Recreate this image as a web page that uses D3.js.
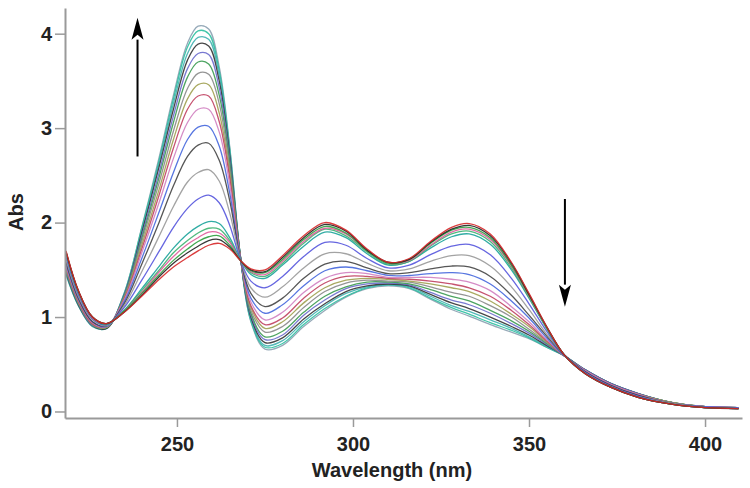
<!DOCTYPE html>
<html>
<head>
<meta charset="utf-8">
<script src="https://cdn.jsdelivr.net/npm/d3@7"></script>
<style>
  html, body { margin: 0; padding: 0; background: #fff; }
  svg { display: block; }
  .axis text, .axis-title {
    font-family: "Liberation Sans", Arial, sans-serif;
    font-weight: bold;
    font-size: 20px;
    fill: #222;
  }
</style>
</head>
<body>
<svg id="chart" width="750" height="488"></svg>
<script>
// ========== Data ==========

const wavelengths = [218.5, 222, 226, 230, 235, 240, 245, 249, 253, 256, 259, 262, 265, 268, 271, 275, 280, 286, 292, 298,
                     304, 310, 316, 322, 328, 333, 339, 345, 350, 355, 360, 366, 373, 381, 390, 400, 409.5];

const scan01 = [1.70,1.28,1.00,0.93,1.05,1.22,1.40,1.53,1.63,1.70, 1.76,1.78,1.72,1.60,1.51,1.50,1.65,1.86,2.00,1.92, 1.72,1.58,1.62,1.80,1.95,1.99,1.88,1.58,1.25,0.90, 0.60,0.40,0.26,0.15,0.08,0.04,0.03];
const scan02 = [1.69,1.28,1.00,0.93,1.05,1.23,1.43,1.57,1.68,1.75, 1.81,1.82,1.74,1.60,1.50,1.48,1.63,1.84,1.98,1.91, 1.71,1.58,1.61,1.79,1.93,1.97,1.86,1.57,1.24,0.90, 0.60,0.40,0.26,0.15,0.08,0.04,0.03];
const scan03 = [1.69,1.27,1.00,0.93,1.06,1.25,1.45,1.60,1.72,1.80, 1.85,1.86,1.76,1.60,1.49,1.47,1.61,1.82,1.96,1.89, 1.70,1.57,1.61,1.78,1.92,1.95,1.84,1.55,1.23,0.89, 0.60,0.40,0.26,0.15,0.08,0.04,0.03];
const scan04 = [1.68,1.27,0.99,0.93,1.06,1.26,1.48,1.64,1.77,1.84, 1.90,1.89,1.79,1.60,1.48,1.45,1.59,1.80,1.94,1.88, 1.70,1.57,1.60,1.76,1.90,1.93,1.82,1.54,1.22,0.89, 0.60,0.40,0.26,0.15,0.08,0.04,0.03];
const scan05 = [1.68,1.27,0.99,0.93,1.07,1.28,1.50,1.68,1.81,1.89, 1.94,1.93,1.81,1.60,1.47,1.43,1.57,1.78,1.93,1.86, 1.69,1.56,1.59,1.75,1.88,1.91,1.80,1.52,1.21,0.88, 0.60,0.40,0.26,0.15,0.08,0.04,0.03];
const scan06 = [1.67,1.26,0.99,0.92,1.07,1.30,1.54,1.73,1.88,1.96, 2.01,1.99,1.84,1.61,1.45,1.41,1.55,1.75,1.90,1.84, 1.67,1.55,1.59,1.73,1.85,1.88,1.77,1.50,1.20,0.88, 0.60,0.40,0.26,0.15,0.08,0.04,0.03];
const scan07 = [1.64,1.24,0.98,0.92,1.10,1.39,1.70,1.95,2.15,2.25, 2.29,2.21,1.97,1.61,1.38,1.31,1.43,1.64,1.79,1.76, 1.62,1.52,1.55,1.66,1.75,1.77,1.66,1.41,1.14,0.85, 0.60,0.41,0.27,0.16,0.08,0.04,0.03];
const scan08 = [1.61,1.22,0.97,0.91,1.12,1.48,1.86,2.17,2.43,2.53, 2.56,2.44,2.10,1.62,1.31,1.21,1.32,1.52,1.67,1.67, 1.57,1.49,1.51,1.59,1.65,1.65,1.54,1.32,1.08,0.82, 0.60,0.41,0.27,0.16,0.09,0.04,0.03];
const scan09 = [1.58,1.20,0.95,0.91,1.14,1.56,2.01,2.39,2.70,2.82, 2.84,2.66,2.23,1.62,1.25,1.11,1.20,1.41,1.56,1.59, 1.52,1.46,1.47,1.51,1.54,1.53,1.43,1.23,1.02,0.80, 0.60,0.42,0.28,0.17,0.09,0.04,0.03];
const scan10 = [1.56,1.19,0.95,0.90,1.16,1.62,2.12,2.53,2.88,3.01, 3.02,2.81,2.31,1.63,1.20,1.04,1.13,1.33,1.49,1.53, 1.49,1.44,1.44,1.46,1.47,1.45,1.35,1.17,0.99,0.78, 0.59,0.42,0.28,0.17,0.09,0.05,0.04];
const scan11 = [1.54,1.18,0.94,0.90,1.18,1.68,2.22,2.68,3.06,3.20, 3.20,2.96,2.40,1.63,1.16,0.97,1.05,1.26,1.41,1.47, 1.46,1.42,1.42,1.42,1.40,1.37,1.28,1.11,0.95,0.76, 0.59,0.43,0.29,0.18,0.09,0.05,0.04];
const scan12 = [1.53,1.17,0.93,0.90,1.19,1.72,2.30,2.79,3.20,3.34, 3.34,3.07,2.47,1.64,1.12,0.92,0.99,1.20,1.36,1.43, 1.43,1.41,1.40,1.38,1.35,1.31,1.22,1.07,0.92,0.75, 0.59,0.43,0.29,0.18,0.09,0.05,0.04];
const scan13 = [1.52,1.16,0.93,0.89,1.20,1.76,2.36,2.88,3.31,3.46, 3.46,3.16,2.52,1.64,1.10,0.88,0.95,1.15,1.31,1.39, 1.41,1.40,1.38,1.35,1.31,1.27,1.17,1.03,0.90,0.74, 0.59,0.43,0.29,0.18,0.10,0.05,0.04];
const scan14 = [1.50,1.15,0.92,0.89,1.21,1.80,2.43,2.97,3.42,3.58, 3.57,3.26,2.57,1.64,1.07,0.84,0.90,1.10,1.27,1.36, 1.39,1.38,1.37,1.32,1.26,1.22,1.12,1.00,0.87,0.73, 0.59,0.43,0.29,0.18,0.10,0.05,0.04];
const scan15 = [1.49,1.15,0.92,0.89,1.22,1.83,2.49,3.06,3.54,3.70, 3.68,3.35,2.63,1.64,1.04,0.79,0.85,1.05,1.22,1.32, 1.37,1.37,1.35,1.29,1.22,1.17,1.07,0.96,0.85,0.72, 0.59,0.43,0.29,0.18,0.10,0.05,0.04];
const scan16 = [1.48,1.14,0.91,0.89,1.23,1.86,2.54,3.13,3.63,3.79, 3.78,3.43,2.67,1.64,1.02,0.76,0.81,1.02,1.18,1.30, 1.35,1.36,1.34,1.26,1.18,1.13,1.04,0.93,0.83,0.71, 0.59,0.44,0.30,0.19,0.10,0.05,0.04];
const scan17 = [1.47,1.13,0.91,0.88,1.23,1.89,2.60,3.20,3.72,3.89, 3.87,3.50,2.71,1.65,1.00,0.73,0.78,0.98,1.14,1.27, 1.33,1.35,1.33,1.24,1.15,1.09,1.00,0.90,0.81,0.70, 0.59,0.44,0.30,0.19,0.10,0.05,0.04];
const scan18 = [1.46,1.13,0.91,0.88,1.24,1.91,2.64,3.26,3.79,3.96, 3.94,3.56,2.75,1.65,0.98,0.70,0.75,0.95,1.12,1.25, 1.32,1.34,1.32,1.22,1.12,1.06,0.97,0.88,0.79,0.69, 0.59,0.44,0.30,0.19,0.10,0.05,0.04];
const scan19 = [1.45,1.12,0.90,0.88,1.25,1.94,2.67,3.31,3.86,4.03, 4.00,3.61,2.78,1.65,0.96,0.68,0.72,0.92,1.09,1.22, 1.31,1.34,1.31,1.20,1.10,1.03,0.94,0.86,0.78,0.68, 0.59,0.44,0.30,0.19,0.10,0.05,0.04];
const scan20 = [1.45,1.12,0.90,0.88,1.25,1.95,2.70,3.35,3.90,4.08, 4.05,3.65,2.80,1.65,0.95,0.66,0.70,0.90,1.07,1.21, 1.30,1.33,1.30,1.19,1.08,1.01,0.92,0.84,0.77,0.68, 0.59,0.44,0.30,0.19,0.10,0.05,0.04];

const scans = [scan01, scan02, scan03, scan04, scan05, scan06, scan07, scan08, scan09, scan10,
               scan11, scan12, scan13, scan14, scan15, scan16, scan17, scan18, scan19, scan20];

const xTicks = [250, 300, 350, 400];
const yTicks = [0, 1, 2, 3, 4];

// trace colours, one per scan (Igor-like cycle)
const scanColors = ["#d62728", "#222222", "#2e9e3e", "#e05a9a", "#3cb371", "#1aa39a", "#5555dd", "#999999", "#444444", "#4466dd",
                    "#d080c0", "#c04060", "#a0a050", "#888888", "#3a9a50", "#6a6acc", "#333333", "#40b0b0", "#2cc0a0", "#8aa0b0"];

// ========== Chart Setup ==========

const svg = d3.select("#chart");

const plot = { left: 65, right: 742, top: 8, bottom: 418 };

const x = d3.scaleLinear()
    .domain([218.2, 410.5])
    .range([plot.left, plot.right]);

const y = d3.scaleLinear()
    .domain([-0.069, 4.272])
    .range([plot.bottom, plot.top]);

svg.append("defs").append("clipPath")
    .attr("id", "plotClip")
    .append("rect")
    .attr("x", plot.left)
    .attr("y", plot.top)
    .attr("width", plot.right - plot.left)
    .attr("height", plot.bottom - plot.top);

// ========== Spectra ==========

const line = d3.line()
    .x((d, i) => x(wavelengths[i]))
    .y(d => y(d))
    .curve(d3.curveCatmullRom.alpha(0.5));

const traces = svg.append("g").attr("clip-path", "url(#plotClip)");

// draw the final scan first so the starting (red) trace ends up on top
scans.slice().reverse().forEach((scan, k) => {
    const idx = scans.length - 1 - k;
    traces.append("path")
        .datum(scan)
        .attr("fill", "none")
        .attr("stroke", scanColors[idx])
        .attr("stroke-width", 1.3)
        .attr("stroke-opacity", 0.9)
        .attr("d", line);
});

// ========== Axes ==========

svg.append("g")
    .attr("class", "axis")
    .attr("transform", `translate(0,${plot.bottom})`)
    .call(d3.axisBottom(x).tickValues(xTicks).tickFormat(d3.format("d"))
        .tickSize(9).tickSizeOuter(0).tickPadding(10));

svg.append("g")
    .attr("class", "axis")
    .attr("transform", `translate(${plot.left},0)`)
    .call(d3.axisLeft(y).tickValues(yTicks).tickFormat(d3.format("d"))
        .tickSize(10).tickSizeOuter(0).tickPadding(3));

svg.selectAll(".axis .domain")
    .attr("stroke", "#9a9a9a")
    .attr("stroke-width", 2);

svg.selectAll(".axis .tick line")
    .attr("stroke", "#9a9a9a")
    .attr("stroke-width", 1.5);

svg.append("text")
    .attr("class", "axis-title")
    .attr("x", 392)
    .attr("y", 477)
    .attr("text-anchor", "middle")
    .text("Wavelength (nm)");

svg.append("text")
    .attr("class", "axis-title")
    .attr("transform", "translate(23,212) rotate(-90)")
    .attr("text-anchor", "middle")
    .text("Abs");

// ========== Arrows ==========

function drawArrow(x0, y0, x1, y1) {
    const headLen = 22, headHalf = 6;
    const dir = Math.sign(y1 - y0);
    svg.append("line")
        .attr("x1", x0).attr("y1", y0)
        .attr("x2", x1).attr("y2", y1 - dir * headLen)
        .attr("stroke", "#000")
        .attr("stroke-width", 2);
    svg.append("path")
        .attr("d", `M${x1},${y1} L${x1 - headHalf},${y1 - dir * headLen} L${x1},${y1 - dir * (headLen - 5)} L${x1 + headHalf},${y1 - dir * headLen} Z`)
        .attr("fill", "#000");
}

// rising band near 257 nm, falling band near 360 nm
drawArrow(x(238.8), y(2.70), x(238.8), y(4.17));
drawArrow(x(360.2), y(2.25), x(360.2), y(1.11));
</script>
</body>
</html>
